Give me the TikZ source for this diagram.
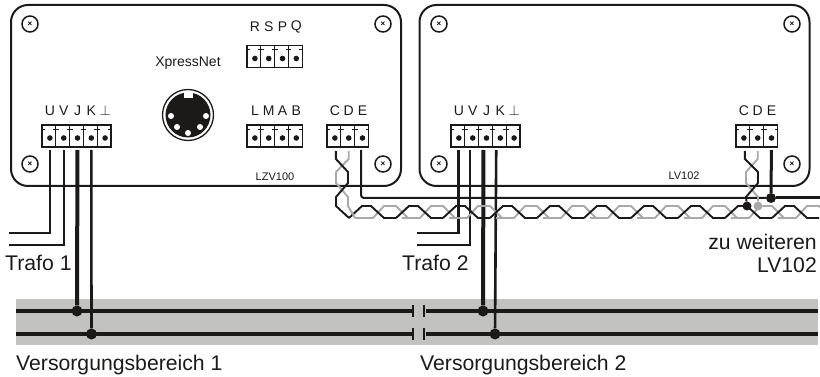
\documentclass[tikz,border=0pt]{standalone}
\usepackage{fontspec}
\setmainfont{Liberation Sans}
\usepackage{amsmath}
\usetikzlibrary{positioning}
\definecolor{wirecol}{HTML}{1C1A19}
\definecolor{twistgray}{HTML}{A9A9A9}
\definecolor{railgray}{HTML}{C2C2C0}
\tikzset{
    %Define style for the housings
    housing/.style={
           rectangle,
           rounded corners=17pt,
           draw=wirecol, line width=2pt,
           minimum width=390pt,
           minimum height=181pt,
           inner sep=0pt},
    screw/.style={
           circle,
           draw=wirecol, line width=1.5pt,
           minimum size=16pt,
           font=\fontsize{8}{8}\selectfont\bfseries,
           inner sep=0pt},
    cell/.style={
           rectangle,
           draw=wirecol, line width=1.2pt,
           minimum width=13.8pt,
           minimum height=22pt,
           inner sep=0pt},
    pin/.style={
           circle,
           fill=wirecol,
           minimum size=5.6pt,
           inner sep=0pt},
    pinlabel/.style={
           font=\fontsize{14}{16}\selectfont,
           text=wirecol,
           inner sep=0pt},
    caption/.style={
           font=\fontsize{21.2}{24}\selectfont,
           text=wirecol,
           inner sep=0pt},
    small/.style={
           font=\fontsize{11}{13}\selectfont,
           text=wirecol,
           inner sep=0pt},
    joint/.style={
           circle,
           fill=wirecol,
           minimum size=#1,
           inner sep=0pt},
    joint/.default=11pt,
    % Define wire styles
    thin wire/.style={draw=wirecol, line width=2.2pt, shorten <=9pt},
    fat wire/.style={draw=wirecol, line width=4pt, shorten <=9pt},
    mid wire/.style={draw=wirecol, line width=2.6pt, shorten <=9pt},
    rail/.style={draw=wirecol, line width=4pt},
    black pair/.style={draw=wirecol, line width=1.9pt, line join=round},
    gray pair/.style={draw=twistgray, line width=1.9pt, line join=round}
}
% #1 block name, #2 x of left edge, #3 y of centre, #4 label distance, #5 list of labels
\newcommand{\terminal}[5]{
  \foreach \lab [count=\i from 0] in {#5} {
    \node[cell] (#1-\i) at ({#2+6.9+13.8*\i},#3) {};
    \node[pin] (#1-p\i) at ([xshift=1pt,yshift=-2pt]#1-\i.center) {};
    \draw[wirecol, line width=1.2pt] ([yshift=-5pt]#1-\i.north west) -- ++(3.5,0);
    \draw[wirecol, line width=1.2pt] ([yshift=-5pt]#1-\i.north east) -- ++(-3.5,0);
    \node[pinlabel] at ([yshift=#4pt]#1-p\i |- #1-\i.north) {\lab};
  }
}
\begin{document}
\begin{tikzpicture}[x=1pt,y=-1pt]
\useasboundingbox (0,0) rectangle (820,377);
 %rails
\fill[railgray] (16,299) rectangle (818,345);
 %housings
\node[housing](lzv) at (206,95.5){};
\node[housing](lv) at (614.5,95.5){};
\foreach \x/\y [count=\n] in {30/24,383/24,30/164,383/164,439/24,792/24,439/164,792/164}
  \node[screw](screw\n) at (\x,\y){×};
\node[small] (lzvname) at (275,177) {LZV100};
\node[small] (lvname) at (684,176) {LV102};
\node[pinlabel] (xnet) at (188,63) {XpressNet};
 %terminal blocks
\terminal{rspq}{247}{56.5}{18}{R,S,P,Q}
\terminal{lmab}{247}{136}{14}{L,M,A,B}
\terminal{cdea}{327}{136}{14}{C,D,E}
\terminal{uvja}{42}{136}{14}{U,V,J,K,$\perp$}
\terminal{uvjb}{451}{136}{14}{U,V,J,K,$\perp$}
\terminal{cdeb}{736}{136}{14}{C,D,E}
 %socket
\node[circle, draw=wirecol, line width=1.3pt, minimum size=51pt, inner sep=0pt](socket) at (188,115){};
\node[circle, fill=wirecol, minimum size=45pt, inner sep=0pt](socketin) at (socket){};
\fill[white] (184,92.5) rectangle (193,98);
\foreach \x/\y in {171/116,206/116,177/127,200/127,188/133}
  \node[circle, fill=white, minimum size=6pt, inner sep=0pt] at (\x,\y) {};
 %trafo ends
\coordinate (ta1) at (9,233);
\coordinate (ta2) at (9,245);
\coordinate (tb1) at (417,233);
\coordinate (tb2) at (417,245);
\draw[thin wire] (uvja-p0.south) |- (ta1);
\draw[thin wire] (uvja-p1.south) |- (ta2);
\draw[thin wire] ([xshift=-.5pt]uvjb-p0.south) |- (tb1);
\draw[thin wire] ([xshift=-2.7pt]uvjb-p1.south) |- (tb2);
 %rails
\foreach \y in {311,334} {
  \draw[rail] (16,\y) -- (411.5,\y);
  \draw[rail] (425.5,\y) -- (818,\y);
  \draw[wirecol, line width=1.6pt] (413,\y-6) -- (413,\y+6);
  \draw[wirecol, line width=1.6pt] (424,\y-6) -- (424,\y+6);
}
\node[joint](ja) at (77,311){};
\node[joint](ka) at (91.5,334){};
\node[joint](jb) at (483,311){};
\node[joint](kb) at (495,334){};
\draw[fat wire] (uvja-p2.south) -- (ja);
\draw[mid wire] (uvja-p3.south) -- (ka);
\draw[fat wire] ([xshift=-3pt]uvjb-p2.south) -- (jb);
\draw[mid wire] ([xshift=-4pt]uvjb-p3.south) -- (kb);
 %signal line E
\coordinate (eend) at (820,198);
\node[joint=10pt](eb) at (771,198){};
\draw[thin wire, line width=2pt, rounded corners=3pt] ([xshift=-1.5pt]cdea-p2.south) |- (eb);
\draw[line width=3pt, wirecol] (eb) -- (eend);
\draw[mid wire, line width=3pt] (cdeb-p2.south) -- (eb);
 %twisted pair
\foreach \k in {0,...,9} {
  \draw[gray pair] ({355+47*\k},218) -- ({373+47*\k},218) -- ({384+47*\k},206) -- ({396+47*\k},206) -- ({408+47*\k},218);
}
\foreach \k in {0,...,9} {
  \draw[black pair] ({349+47*\k},218) -- ({362+47*\k},206) -- ({371+47*\k},206) -- ({384+47*\k},218) -- ({396+47*\k},218);
}
\draw[gray pair] (cdea-p1.south) ++(0,10) -- ++(0,8) -- (336,172) -- (336,183) -- (348,197) -- (348,206) -- (355,218);
\draw[black pair] (cdea-p0.south) ++(1,10) -- ++(0,8) -- (348,172) -- (348,183) -- (336,197) -- (336,206) -- (349,218);
\node[joint=9pt, fill=twistgray](db) at (758,206){};
\node[joint=9pt](cb) at (747,206){};
\draw[gray pair] (cdeb-p1.south) ++(0,10) -- ++(0,8) -- (746,172) -- (746,183) -- (758,197) -- (db);
\draw[black pair] (cdeb-p0.south) ++(1,10) -- ++(0,8) -- (758,172) -- (758,183) -- (746,197) -- (cb);
 %captions
\node[caption, anchor=west] (trafoa) at (5,263) {Trafo 1};
\node[caption, anchor=west] (trafob) at (402,263) {Trafo 2};
\node[caption, anchor=east] (weiter) at (817,242) {zu weiteren};
\node[caption, anchor=east] (lvnext) at (817,265) {LV102};
\node[caption, anchor=west] (vba) at (16,365) {Versorgungsbereich 1};
\node[caption, anchor=west] (vbb) at (420,365) {Versorgungsbereich 2};
\end{tikzpicture}
\end{document}
